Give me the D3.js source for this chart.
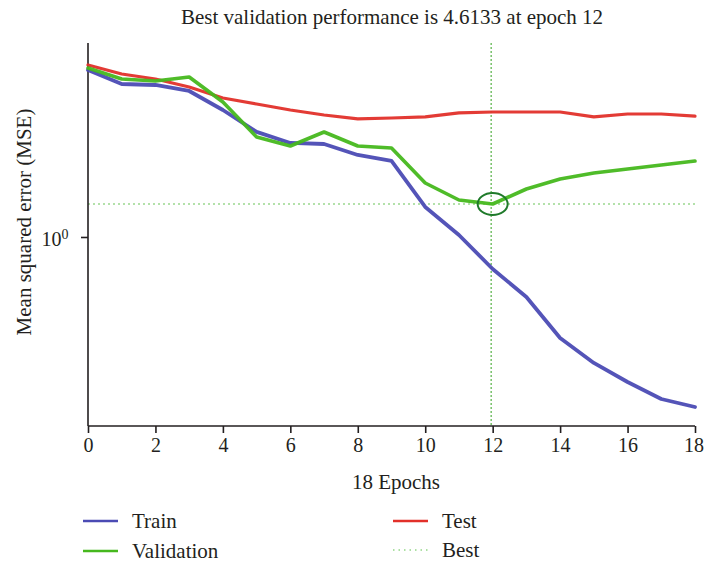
<!DOCTYPE html>
<html><head><meta charset="utf-8">
<script src="https://cdn.jsdelivr.net/npm/d3@7/dist/d3.min.js"></script>
<style>
html,body{margin:0;padding:0;background:#fff;}
svg{display:block;font-family:"Liberation Serif","Times New Roman",serif;}
</style></head>
<body>
<svg id="chart" width="704" height="567"></svg>
<script>
// ---- data ----
const epochs = d3.range(0, 19);
const xTicks = [0, 2, 4, 6, 8, 10, 12, 14, 16, 18];
const yTicks = [1];
const trainMSE = [2291, 1198, 1143, 866, 359, 130, 77.9, 74.3, 44.7, 33.8, 4.015, 1.097, 0.2271, 0.0621, 0.00929, 0.00292, 0.00121, 0.00055, 0.00038];
const validationMSE = [2513, 1511, 1377, 1656, 520, 102.8, 67.8, 129.7, 67.8, 61.8, 12.2, 5.55, 4.6133, 9.24, 14.69, 19.4, 23.4, 28.1, 33.8];
const testMSE = [2890, 1905, 1511, 1042, 626, 474, 359, 285, 237, 248, 260, 313, 327, 327, 327, 260, 298, 298, 270];
const bestEpoch = 12;
const bestValue = 4.6133;
const titleText = "Best validation performance is 4.6133 at epoch 12";
const xLabel = "18 Epochs";
const yLabel = "Mean squared error (MSE)";
const legendItems = ["Train", "Validation", "Test", "Best"];

// ---- layout ----
const svg = d3.select("#chart");
const L = 88, R = 695, T = 43, B = 426;
const FS = 21;
const x = d3.scaleLinear().domain([0, 18]).range([L, R]);
const y = d3.scaleLog().domain([1.574e-4, 7998]).range([B, T]);
const ink = "#231f20";
const colors = {Train: "#4b4bb4", Validation: "#46b81e", Test: "#e2302a", Best: "#5cc24a"};

// title
svg.append("text").attr("x", 392).attr("y", 24).attr("text-anchor", "middle")
  .attr("font-size", FS).attr("fill", ink).text(titleText);

// best guide lines
svg.append("line").attr("x1", L).attr("x2", R).attr("y1", y(bestValue)).attr("y2", y(bestValue))
  .attr("stroke", "#9ad88e").attr("stroke-width", 1.6).attr("stroke-dasharray", "2,3");
svg.append("line").attr("x1", x(bestEpoch) - 1.5).attr("x2", x(bestEpoch) - 1.5).attr("y1", T).attr("y2", B)
  .attr("stroke", "#62b852").attr("stroke-width", 1.3).attr("stroke-dasharray", "2,2");

// axes
const xAxis = svg.append("g").attr("transform", `translate(0,${B})`)
  .call(d3.axisBottom(x).tickValues(xTicks).tickSize(7).tickPadding(5).tickFormat(d3.format("d")));
const yAxis = svg.append("g").attr("transform", `translate(${L},0)`)
  .call(d3.axisLeft(y).tickValues(yTicks).tickSize(7).tickPadding(4).tickFormat(() => "10"));
[xAxis, yAxis].forEach(g => {
  g.select(".domain").attr("stroke", ink).attr("stroke-width", 1.6);
  g.selectAll(".tick line").attr("stroke", ink).attr("stroke-width", 1.6);
  g.selectAll(".tick text").attr("fill", ink).attr("font-size", 20)
    .attr("font-family", '"Liberation Serif","Times New Roman",serif');
});
xAxis.select(".domain").attr("d", `M${L},0H${R}`);
yAxis.select(".domain").attr("d", `M0,${T}V${B}`);
// keep the last tick label inside the window
xAxis.selectAll(".tick text").filter(d => d === 18).attr("text-anchor", "end").attr("dx", "0.42em");
yAxis.selectAll(".tick text").attr("dx", "-0.42em").attr("dy", "0.45em").append("tspan")
  .attr("dy", "-0.55em").attr("font-size", 14).text(d => Math.round(Math.log10(d)));

// axis labels
svg.append("text").attr("x", 396).attr("y", 489).attr("text-anchor", "middle")
  .attr("font-size", FS).attr("fill", ink).text(xLabel);
svg.append("text").attr("transform", "translate(31,222) rotate(-90)").attr("text-anchor", "middle")
  .attr("font-size", FS).attr("fill", ink).text(yLabel);

// series
const line = d3.line().x((d, i) => x(epochs[i])).y(d => y(d));
const series = [
  {name: "Test", values: testMSE, w: 3.2},
  {name: "Validation", values: validationMSE, w: 3.6},
  {name: "Train", values: trainMSE, w: 3.8}
];
const order = ["Train", "Test", "Validation"];
order.forEach(n => {
  const s = series.find(d => d.name === n);
  svg.append("path").datum(s.values).attr("d", line).attr("fill", "none")
    .attr("stroke", colors[n]).attr("stroke-width", s.w)
    .attr("stroke-linejoin", "round").attr("stroke-linecap", "round").attr("opacity", 0.95);
});

// best marker circle
svg.append("ellipse").attr("cx", x(bestEpoch)).attr("cy", y(bestValue))
  .attr("rx", 15).attr("ry", 11).attr("fill", "none").attr("stroke", "#1f7a2a").attr("stroke-width", 2);

// legend
const legPos = {Train: [83, 521], Validation: [83, 551], Test: [393, 521], Best: [393, 550]};
legendItems.forEach(n => {
  const [lx, ly] = legPos[n];
  const g = svg.append("g").attr("transform", `translate(${lx},${ly})`);
  const ln = g.append("line").attr("x1", 0).attr("x2", 35).attr("y1", 0).attr("y2", 0)
    .attr("stroke", colors[n]).attr("stroke-width", n === "Best" ? 1.2 : 2.5);
  if (n === "Best") ln.attr("stroke-dasharray", "1.5,4");
  g.append("text").attr("x", 49).attr("y", 0).attr("dy", "0.33em").attr("font-size", FS)
    .attr("fill", ink).text(n);
});
</script>
</body></html>
